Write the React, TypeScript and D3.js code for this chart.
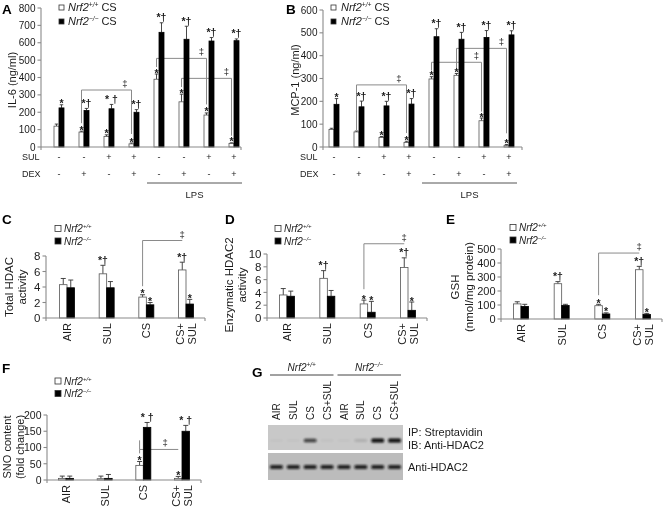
import React from "react";
import * as d3 from "d3";

const FONT = "'Liberation Sans', Arial, Helvetica, sans-serif";
const INK = "#1b1b1b";
const AXIS_C = "#8a8a8a";
const BRACKET_C = "#8a8a8a";

// ---------- Panels A & B: treatment table ----------
const treatments = [0, 1, 2, 3, 4, 5, 6, 7];
const sulSigns = ["-", "-", "+", "+", "-", "-", "+", "+"];
const dexSigns = ["-", "+", "-", "+", "-", "+", "-", "+"];
const lpsFirst = 4;
const lpsLast = 7;
const legendSups = ["+/+", "\u2212/\u2212"];

// ---------- Panel A: IL-6 (ng/ml) ----------
const il6Ticks = [0, 100, 200, 300, 400, 500, 600, 700, 800];
const il6Wt = [120, 86, 60, 18, 390, 260, 184, 20];
const il6WtErr = [12, 5, 10, 5, 30, 44, 12, 4];
const il6Ko = [225, 210, 220, 200, 660, 620, 610, 612];
const il6KoErr = [18, 12, 25, 15, 55, 75, 20, 10];
const il6WtMarks = ["", "*", "*", "*", "*", "*", "*", "*"];
const il6KoMarks = ["*", "*\u2020", "* \u2020", "*\u2020", "*\u2020", "*\u2020", "*\u2020", "*\u2020"];
const il6Brackets = [
  { from: 1, to: 3, level: 328, fromEnd: 137, toEnd: 75, at: 0.87 },
  { from: 4, to: 6, level: 510, fromEnd: 460, toEnd: 245, at: 0.9 },
  { from: 5, to: 7, level: 395, fromEnd: 345, toEnd: 65, at: 0.9 },
];

// ---------- Panel B: MCP-1 (ng/ml) ----------
const mcpTicks = [0, 100, 200, 300, 400, 500, 600];
const mcpWt = [77, 66, 42, 20, 298, 314, 115, 6];
const mcpWtErr = [5, 4, 4, 5, 10, 8, 12, 5];
const mcpKo = [187, 176, 180, 188, 483, 472, 480, 491];
const mcpKoErr = [25, 25, 20, 24, 35, 30, 30, 18];
const mcpWtMarks = ["", "", "*", "*", "*", "*", "*", "*"];
const mcpKoMarks = ["*", "*\u2020", "*\u2020", "*\u2020", "*\u2020", "*\u2020", "*\u2020", "*\u2020"];
const mcpBrackets = [
  { from: 1, to: 3, level: 272, fromEnd: 74, toEnd: 61, at: 0.85 },
  { from: 4, to: 6, level: 371, fromEnd: 335, toEnd: 155, at: 0.9 },
  { from: 5, to: 7, level: 432, fromEnd: 345, toEnd: 60, at: 0.9 },
];

// ---------- Panels C-F: exposures ----------
const exposures = [["AIR"], ["SUL"], ["CS"], ["CS+", "SUL"]];

// Panel C: Total HDAC activity
const totalHdacTicks = [0, 2, 4, 6, 8];
const totalHdacWt = [4.3, 5.7, 2.7, 6.2];
const totalHdacWtErr = [0.8, 1.1, 0.3, 1.0];
const totalHdacKo = [3.9, 3.9, 1.7, 1.8];
const totalHdacKoErr = [1.0, 0.8, 0.3, 0.6];
const totalHdacWtMarks = ["", "*\u2020", "*", "*\u2020"];
const totalHdacKoMarks = ["", "", "*", "*"];
const totalHdacBrackets = [{ from: 2, to: 3, level: 10, fromEnd: 4.1, toEnd: 10, at: 1 }];

// Panel D: Enzymatic HDAC2 activity
const hdac2Ticks = [0, 2, 4, 6, 8, 10];
const hdac2Wt = [3.6, 6.2, 2.2, 7.9];
const hdac2WtErr = [1.0, 1.2, 0.6, 1.5];
const hdac2Ko = [3.4, 3.4, 0.9, 1.2];
const hdac2KoErr = [0.8, 0.9, 1.7, 1.3];
const hdac2WtMarks = ["", "*\u2020", "*", "*\u2020"];
const hdac2KoMarks = ["", "", "*", "*"];
const hdac2Brackets = [{ from: 2, to: 3, level: 11.6, fromEnd: 4.5, toEnd: 11.6, at: 1 }];

// Panel E: GSH (nmol/mg protein)
const gshTicks = [0, 100, 200, 300, 400, 500];
const gshWt = [108, 252, 95, 352];
const gshWtErr = [15, 15, 10, 24];
const gshKo = [90, 97, 36, 32];
const gshKoErr = [15, 8, 8, 8];
const gshWtMarks = ["", "*\u2020", "*", "*\u2020"];
const gshKoMarks = ["", "", "*", "*"];
const gshBrackets = [{ from: 2, to: 3, level: 471, fromEnd: 170, toEnd: 471, at: 1 }];

// Panel F: SNO content (fold change)
const snoTicks = [0, 50, 100, 150, 200];
const snoWt = [5, 4, 45, 5];
const snoWtErr = [7, 8, 12, 6];
const snoKo = [5, 5, 162, 150];
const snoKoErr = [7, 12, 15, 18];
const snoWtMarks = ["", "", "*", "*"];
const snoKoMarks = ["", "", "* \u2020", "* \u2020"];
const snoBrackets = [{ from: 2, to: 3, level: 94, fromEnd: 82, toEnd: 94, at: 0.66, fromTop: 122 }];

// ---------- Panel G: blot ----------
const laneLabels = ["AIR", "SUL", "CS", "CS+SUL", "AIR", "SUL", "CS", "CS+SUL"];
const ipSignal = [0.03, 0.03, 0.7, 0.04, 0.03, 0.15, 1, 0.95];
const inputSignal = [0.85, 0.85, 0.85, 0.85, 0.85, 0.85, 0.85, 0.85];
const blotLabels = [["IP: Streptavidin", "IB: Anti-HDAC2"], ["Anti-HDAC2"]];

type Bracket = { from: number; to: number; level: number; fromEnd: number; toEnd: number; at: number; fromTop?: number };

type PanelProps = {
  n: number;
  wt: number[]; wtErr: number[]; ko: number[]; koErr: number[];
  wtMarks: string[]; koMarks: string[];
  ticks: number[]; brackets: Bracket[];
  axisX: number; axisEnd: number; c0: number; c1: number; y0: number; yTopPx: number;
  barW: number; capW: number; tickFont: number; markFont: number;
  catLabels?: string[][]; catFont?: number;
};

function BarPanel(p: PanelProps) {
  const x = d3.scalePoint<number>().domain(d3.range(p.n)).range([p.c0, p.c1]);
  const yMax = p.ticks[p.ticks.length - 1];
  const y = d3.scaleLinear().domain([0, yMax]).range([p.y0, p.yTopPx]);
  const cx = (i: number) => x(i) as number;
  const wc = (i: number) => cx(i) - p.barW / 2;
  const kc = (i: number) => cx(i) + p.barW / 2;
  const bracketPath = (b: Bracket) => {
    const xa = wc(b.from);
    const xb = wc(b.to);
    const path = d3.path();
    path.moveTo(xa, y(b.fromEnd));
    path.lineTo(xa, y(b.level));
    path.lineTo(xb, y(b.level));
    path.lineTo(xb, y(b.toEnd));
    if (b.fromTop !== undefined) {
      path.moveTo(xa, y(b.level));
      path.lineTo(xa, y(b.fromTop));
    }
    return path.toString();
  };
  const markBase = (top: number, m: string) => y(top) + (m.includes("\u2020") ? -1.5 : 2.5);
  const series = [
    { vals: p.wt, errs: p.wtErr, marks: p.wtMarks, c: wc, fill: "#ffffff", stroke: "#555" },
    { vals: p.ko, errs: p.koErr, marks: p.koMarks, c: kc, fill: "#000000", stroke: "#000" },
  ];
  return (
    <g fontFamily={FONT}>
      {p.brackets.map((b, i) => (
        <g key={"b" + i}>
          <path d={bracketPath(b)} fill="none" stroke={BRACKET_C} strokeWidth={1} />
          <text
            x={wc(b.from) + (wc(b.to) - wc(b.from)) * b.at}
            y={y(b.level) - 3}
            fontSize={p.markFont - 1}
            textAnchor="middle"
            fill={INK}
          >
            {"\u2021"}
          </text>
        </g>
      ))}
      {series.map((s, si) => (
        <g key={"s" + si}>
          {s.vals.map((v, i) => (
            <g key={i}>
              <line x1={s.c(i)} x2={s.c(i)} y1={y(v)} y2={y(v + s.errs[i])} stroke="#333" strokeWidth={0.9} />
              <line x1={s.c(i) - p.capW / 2} x2={s.c(i) + p.capW / 2} y1={y(v + s.errs[i])} y2={y(v + s.errs[i])} stroke="#333" strokeWidth={0.9} />
              <rect
                x={s.c(i) - p.barW / 2}
                y={y(v)}
                width={p.barW}
                height={p.y0 - y(v)}
                fill={s.fill}
                stroke={s.stroke}
                strokeWidth={0.8}
              />
              {s.marks[i] ? (
                <text
                  x={s.c(i)}
                  y={markBase(v + s.errs[i], s.marks[i])}
                  fontSize={p.markFont}
                  fontWeight="bold"
                  textAnchor="middle"
                  fill={INK}
                >
                  {s.marks[i]}
                </text>
              ) : null}
            </g>
          ))}
        </g>
      ))}
      {/* axes */}
      <line x1={p.axisX} x2={p.axisX} y1={y(yMax)} y2={p.y0 + 3} stroke={AXIS_C} strokeWidth={1.1} />
      <line x1={p.axisX} x2={p.axisEnd} y1={p.y0} y2={p.y0} stroke={AXIS_C} strokeWidth={1.1} />
      <line x1={p.axisEnd} x2={p.axisEnd} y1={p.y0} y2={p.y0 + 3} stroke={AXIS_C} strokeWidth={1.1} />
      {p.ticks.map((t) => (
        <g key={"t" + t}>
          <line x1={p.axisX - 3.5} x2={p.axisX} y1={y(t)} y2={y(t)} stroke={AXIS_C} strokeWidth={1.1} />
          <text x={p.axisX - 5.5} y={y(t)} dy="0.36em" fontSize={p.tickFont} textAnchor="end" fill={INK}>
            {t}
          </text>
        </g>
      ))}
      {p.catLabels
        ? p.catLabels.map((lines, i) =>
            lines.map((ln, li) => {
              const off = (li - (lines.length - 1) / 2) * 12;
              return (
                <text
                  key={"c" + i + "-" + li}
                  transform={`translate(${cx(i) + off},${p.y0 + 5}) rotate(-90)`}
                  dy="0.36em"
                  fontSize={p.catFont}
                  textAnchor="end"
                  fill={INK}
                >
                  {ln}
                </text>
              );
            })
          )
        : null}
    </g>
  );
}

function Legend(p: { x: number; ys: number[]; suffix: string; fontSize: number; sq: number; gap: number }) {
  return (
    <g fontFamily={FONT}>
      {p.ys.map((yy, i) => (
        <g key={i}>
          <rect x={p.x} y={yy - p.sq / 2} width={p.sq} height={p.sq} fill={i === 0 ? "#fff" : "#000"} stroke="#333" strokeWidth={0.8} />
          <text x={p.x + p.sq + p.gap} y={yy + p.fontSize * 0.36} fontSize={p.fontSize} fill={INK}>
            <tspan fontStyle="italic">Nrf2</tspan>
            <tspan fontStyle="italic" fontSize={p.fontSize * 0.6} dy={-p.fontSize * 0.38}>
              {legendSups[i]}
            </tspan>
            <tspan dy={p.fontSize * 0.38}>{p.suffix}</tspan>
          </text>
        </g>
      ))}
    </g>
  );
}

function YLabel(p: { lines: string[]; xs: number[]; cy: number; fontSize: number }) {
  return (
    <g fontFamily={FONT}>
      {p.lines.map((ln, i) => (
        <text
          key={i}
          transform={`translate(${p.xs[i]},${p.cy}) rotate(-90)`}
          dy="0.35em"
          fontSize={p.fontSize}
          textAnchor="middle"
          fill={INK}
        >
          {ln}
        </text>
      ))}
    </g>
  );
}

function TreatmentRows(p: { c0: number; c1: number; labelX: number; rowY: number[]; lpsY: number; fontSize: number }) {
  const x = d3.scalePoint<number>().domain(treatments).range([p.c0, p.c1]);
  const rows = [
    { name: "SUL", signs: sulSigns },
    { name: "DEX", signs: dexSigns },
  ];
  const lx0 = (x(lpsFirst) as number) - 12;
  const lx1 = (x(lpsLast) as number) + 8;
  return (
    <g fontFamily={FONT} fill={INK}>
      {rows.map((r, ri) => (
        <g key={r.name}>
          <text x={p.labelX} y={p.rowY[ri]} fontSize={p.fontSize}>
            {r.name}
          </text>
          {r.signs.map((s, i) => (
            <text key={i} x={x(i) as number} y={p.rowY[ri]} fontSize={p.fontSize} textAnchor="middle">
              {s}
            </text>
          ))}
        </g>
      ))}
      <line x1={lx0} x2={lx1} y1={p.lpsY} y2={p.lpsY} stroke="#555" strokeWidth={1} />
      <text x={(lx0 + lx1) / 2} y={p.lpsY + 15} fontSize={p.fontSize + 0.5} textAnchor="middle">
        LPS
      </text>
    </g>
  );
}

function PanelLetter(p: { t: string; x: number; y: number }) {
  return (
    <text x={p.x} y={p.y} fontFamily={FONT} fontWeight="bold" fontSize={13.5} fill="#000">
      {p.t}
    </text>
  );
}

function Blot() {
  const lanes = d3.scaleBand<number>().domain(d3.range(laneLabels.length)).range([268, 403]);
  const bw = lanes.bandwidth();
  const blots = [
    { top: 425, bottom: 450, bandY: 440.5, bg: "#c8c8c8", sig: ipSignal },
    { top: 453, bottom: 480, bandY: 467, bg: "#bcbcbc", sig: inputSignal },
  ];
  const groups = [
    { sup: legendSups[0], a: 0, b: 3 },
    { sup: legendSups[1], a: 4, b: 7 },
  ];
  return (
    <g fontFamily={FONT} fill={INK}>
      <defs>
        <filter id="bandblur" x="-30%" y="-100%" width="160%" height="300%">
          <feGaussianBlur stdDeviation="0.9" />
        </filter>
      </defs>
      {groups.map((g, i) => {
        const x0 = (lanes(g.a) as number) + 2;
        const x1 = (lanes(g.b) as number) + bw - 2;
        return (
          <g key={i}>
            <line x1={x0} x2={x1} y1={375} y2={375} stroke="#444" strokeWidth={1} />
            <text x={(x0 + x1) / 2} y={371} fontSize={10} textAnchor="middle">
              <tspan fontStyle="italic">Nrf2</tspan>
              <tspan fontStyle="italic" fontSize={6.5} dy={-3.8}>
                {g.sup}
              </tspan>
            </text>
          </g>
        );
      })}
      {laneLabels.map((l, i) => (
        <text
          key={i}
          transform={`translate(${(lanes(i) as number) + bw / 2},420) rotate(-90)`}
          dy="0.36em"
          fontSize={10}
          textAnchor="start"
        >
          {l}
        </text>
      ))}
      {blots.map((b, bi) => (
        <g key={bi}>
          <rect x={lanes(0) as number} y={b.top} width={(lanes(7) as number) + bw - (lanes(0) as number)} height={b.bottom - b.top} fill={b.bg} />
          {b.sig.map((s, i) => (
            <rect
              key={i}
              x={(lanes(i) as number) + bw * 0.12}
              y={b.bandY - (2 + 2.2 * s) / 2}
              width={bw * 0.76}
              height={2 + 2.2 * s}
              rx={1.5}
              fill="#0d0d0d"
              opacity={Math.min(1, s * 1.05)}
              filter="url(#bandblur)"
            />
          ))}
        </g>
      ))}
      <text x={408} y={436} fontSize={11}>{blotLabels[0][0]}</text>
      <text x={408} y={448.5} fontSize={11}>{blotLabels[0][1]}</text>
      <text x={408} y={471} fontSize={11}>{blotLabels[1][0]}</text>
    </g>
  );
}

export default function App() {
  return (
    <svg
      width={665}
      height={510}
      viewBox="0 0 665 510"
      style={{ position: "absolute", left: 0, top: 0, display: "block", filter: "grayscale(1)" }}
    >
      <rect x={0} y={0} width={665} height={510} fill="#fff" />

      {/* Panel A */}
      <PanelLetter t="A" x={2} y={14} />
      <YLabel lines={["IL-6 (ng/ml)"]} xs={[12]} cy={80} fontSize={11} />
      <Legend x={59} ys={[7.5, 21.5]} suffix=" CS" fontSize={11} sq={5} gap={4} />
      <BarPanel
        n={8} wt={il6Wt} wtErr={il6WtErr} ko={il6Ko} koErr={il6KoErr}
        wtMarks={il6WtMarks} koMarks={il6KoMarks} ticks={il6Ticks} brackets={il6Brackets}
        axisX={41} axisEnd={241} c0={59} c1={234} y0={147} yTopPx={8}
        barW={5} capW={3.5} tickFont={10} markFont={10.5}
      />
      <TreatmentRows c0={59} c1={234} labelX={22} rowY={[160, 177]} lpsY={183} fontSize={9} />

      {/* Panel B */}
      <PanelLetter t="B" x={286} y={14} />
      <YLabel lines={["MCP-1 (ng/ml)"]} xs={[295]} cy={80} fontSize={11} />
      <Legend x={331} ys={[7.5, 21.5]} suffix=" CS" fontSize={11} sq={5} gap={5} />
      <BarPanel
        n={8} wt={mcpWt} wtErr={mcpWtErr} ko={mcpKo} koErr={mcpKoErr}
        wtMarks={mcpWtMarks} koMarks={mcpKoMarks} ticks={mcpTicks} brackets={mcpBrackets}
        axisX={323} axisEnd={522} c0={334} c1={509} y0={147} yTopPx={10}
        barW={5} capW={3.5} tickFont={10} markFont={10.5}
      />
      <TreatmentRows c0={334} c1={509} labelX={300} rowY={[160, 177]} lpsY={183} fontSize={9} />

      {/* Panel C */}
      <PanelLetter t="C" x={2} y={224} />
      <YLabel lines={["Total HDAC", "activity"]} xs={[9, 22]} cy={287} fontSize={11.5} />
      <Legend x={55} ys={[228.5, 241]} suffix="" fontSize={10} sq={6} gap={3} />
      <BarPanel
        n={4} wt={totalHdacWt} wtErr={totalHdacWtErr} ko={totalHdacKo} koErr={totalHdacKoErr}
        wtMarks={totalHdacWtMarks} koMarks={totalHdacKoMarks} ticks={totalHdacTicks} brackets={totalHdacBrackets}
        axisX={46} axisEnd={205} c0={67} c1={186} y0={318} yTopPx={256}
        barW={7.5} capW={5} tickFont={11.5} markFont={10.5}
        catLabels={exposures} catFont={11}
      />

      {/* Panel D */}
      <PanelLetter t="D" x={225} y={224} />
      <YLabel lines={["Enzymatic HDAC2", "activity"]} xs={[229, 242]} cy={285} fontSize={11.5} />
      <Legend x={275} ys={[228.5, 241]} suffix="" fontSize={10} sq={6} gap={3} />
      <BarPanel
        n={4} wt={hdac2Wt} wtErr={hdac2WtErr} ko={hdac2Ko} koErr={hdac2KoErr}
        wtMarks={hdac2WtMarks} koMarks={hdac2KoMarks} ticks={hdac2Ticks} brackets={hdac2Brackets}
        axisX={267} axisEnd={427} c0={287} c1={408} y0={318} yTopPx={254}
        barW={7.5} capW={5} tickFont={11.5} markFont={10.5}
        catLabels={exposures} catFont={11}
      />

      {/* Panel E */}
      <PanelLetter t="E" x={446} y={224} />
      <YLabel lines={["GSH", "(nmol/mg protein)"]} xs={[455, 469]} cy={287} fontSize={11.5} />
      <Legend x={510} ys={[227.5, 240]} suffix="" fontSize={10} sq={6} gap={3} />
      <BarPanel
        n={4} wt={gshWt} wtErr={gshWtErr} ko={gshKo} koErr={gshKoErr}
        wtMarks={gshWtMarks} koMarks={gshKoMarks} ticks={gshTicks} brackets={gshBrackets}
        axisX={501} axisEnd={662} c0={521} c1={643} y0={319} yTopPx={249}
        barW={7.5} capW={5} tickFont={11} markFont={10.5}
        catLabels={exposures} catFont={11}
      />

      {/* Panel F */}
      <PanelLetter t="F" x={2} y={373} />
      <YLabel lines={["SNO content", "(fold change)"]} xs={[7, 20]} cy={447} fontSize={11} />
      <Legend x={55} ys={[381, 393.5]} suffix="" fontSize={10} sq={6} gap={3} />
      <BarPanel
        n={4} wt={snoWt} wtErr={snoWtErr} ko={snoKo} koErr={snoKoErr}
        wtMarks={snoWtMarks} koMarks={snoKoMarks} ticks={snoTicks} brackets={snoBrackets}
        axisX={47} axisEnd={201} c0={66} c1={182} y0={480} yTopPx={415}
        barW={7.5} capW={5} tickFont={10.5} markFont={10.5}
        catLabels={exposures} catFont={11}
      />

      {/* Panel G */}
      <PanelLetter t="G" x={252} y={377} />
      <Blot />
    </svg>
  );
}
